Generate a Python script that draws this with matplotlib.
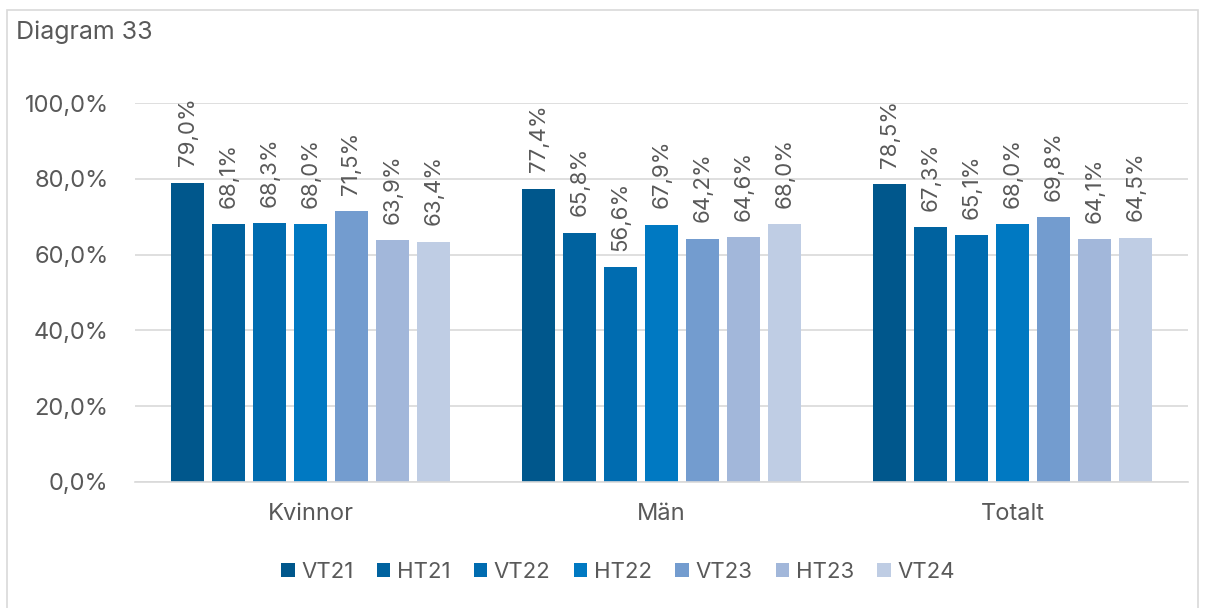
import matplotlib.pyplot as plt
import matplotlib.patches as mpatches
import numpy as np

plt.rcParams['font.family'] = ['Inter', 'DejaVu Sans']

categories = ['Kvinnor', 'Män', 'Totalt']
terms = ['VT21', 'HT21', 'VT22', 'HT22', 'VT23', 'HT23', 'VT24']
colors = ['#00578c', '#00629f', '#006cb0', '#0079c2', '#739ccf', '#a2b7da', '#bfcde4']
values = [
    [79.0, 77.4, 78.5],
    [68.1, 65.8, 67.3],
    [68.3, 56.6, 65.1],
    [68.0, 67.9, 68.0],
    [71.5, 64.2, 69.8],
    [63.9, 64.6, 64.1],
    [63.4, 68.0, 64.5],
]

txt = '#595959'
fig = plt.figure(figsize=(12.06, 6.08), dpi=100)
# outer frame
fig.patches.append(mpatches.Rectangle((7 / 1206, -0.01), 1191 / 1206, 1 - 10 / 608 + 0.01,
                                      transform=fig.transFigure, fill=False,
                                      edgecolor='#d9d9d9', linewidth=1.2))
fig.text(16 / 1206, 1 - 32 / 608, 'Diagram 33', fontsize=18, color=txt, va='center')

ax = fig.add_axes([135 / 1206, 126 / 608, 1053 / 1206, 379 / 608])
x = np.arange(len(categories))
pitch = 0.1168
width = 0.094
for i, (term, vals) in enumerate(zip(terms, values)):
    pos = x + (i - 3) * pitch
    ax.bar(pos, vals, width, color=colors[i], label=term, zorder=2)
    for p, v in zip(pos, vals):
        ax.text(p, v + 4.3, f'{v:.1f}%'.replace('.', ','), rotation=90,
                ha='center', va='bottom', fontsize=16, color=txt)

ax.set_xlim(-0.5, 2.5)
ax.set_ylim(0, 100)
ax.set_yticks(np.arange(0, 101, 20))
ax.set_yticklabels([f'{t:.1f}%'.replace('.', ',') for t in np.arange(0, 101, 20)])
ax.set_xticks(x)
ax.set_xticklabels(categories, fontsize=17)
ax.tick_params(axis='both', length=0, labelcolor=txt)
ax.tick_params(axis='y', pad=19, labelsize=17)
ax.tick_params(axis='x', pad=15)
ax.grid(axis='y', color='#d9d9d9', linewidth=1.2, zorder=0)
for s in ['top', 'right', 'left']:
    ax.spines[s].set_visible(False)
ax.spines['bottom'].set_color('#d9d9d9')
ax.spines['bottom'].set_linewidth(1.2)

ax.legend(loc='center', bbox_to_anchor=(618 / 1206, 1 - 572 / 608), bbox_transform=fig.transFigure,
          ncol=7, frameon=False, fontsize=16, labelcolor=txt, handlelength=0.6,
          handleheight=0.6, handletextpad=0.3, columnspacing=1.05)

fig.savefig('out.png', dpi=100)
